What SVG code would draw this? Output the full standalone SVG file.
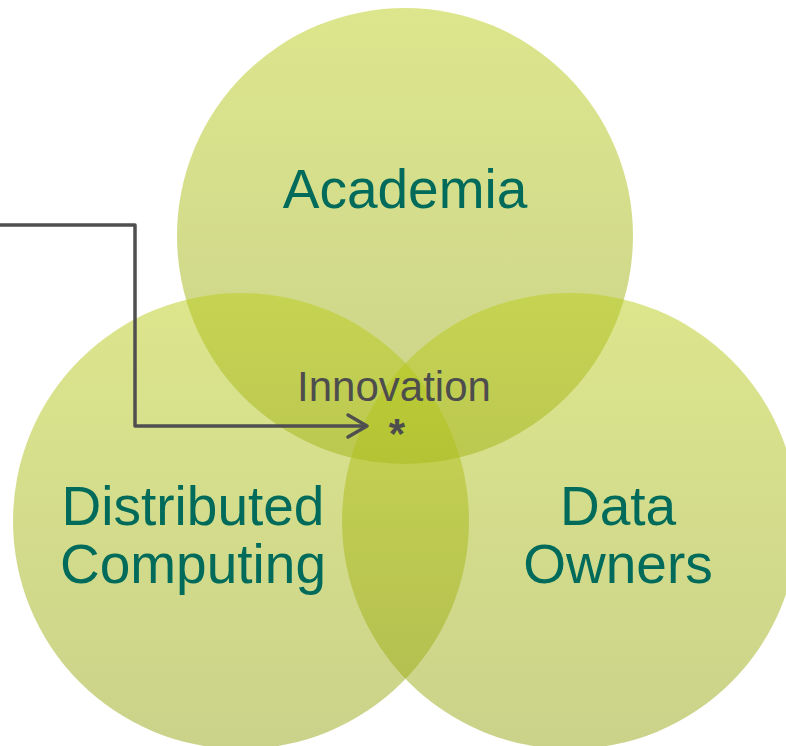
<svg xmlns="http://www.w3.org/2000/svg" width="786" height="746" viewBox="0 0 786 746">
<defs>
<linearGradient id="g" x1="0" y1="0" x2="0" y2="1">
<stop offset="0" stop-color="#BACD1A"/>
<stop offset="1" stop-color="#96A616"/>
</linearGradient>
<style>
.c{fill:url(#g);fill-opacity:0.5}
.t{font-family:"Liberation Sans",Arial,sans-serif;font-size:55px;fill:#006B5A;text-anchor:middle}
.i{font-family:"Liberation Sans",Arial,sans-serif;font-size:42px;fill:#4D4D4D;text-anchor:middle}
.conn{fill:none;stroke:#4F4F4F;stroke-width:3.5;stroke-linejoin:round;stroke-linecap:round}
</style>
</defs>
<rect width="786" height="746" fill="#FFFFFF"/>
<g id="academia"><circle class="c" cx="405" cy="236" r="228"/></g>
<g id="distributed-computing"><circle class="c" cx="241" cy="521" r="228"/></g>
<g id="data-owners"><circle class="c" cx="570" cy="521" r="228"/></g>
<g id="labels">
<text class="t" x="405" y="208">Academia</text>
<text class="t" x="193" y="525">Distributed</text>
<text class="t" x="193" y="583">Computing</text>
<text class="t" x="618" y="525">Data</text>
<text class="t" x="618" y="583">Owners</text>
</g>
<g id="innovation">
<text class="i" x="394" y="401">Innovation</text>
<text class="i" x="397" y="448" font-weight="bold">*</text>
</g>
<g id="connectors">
<path class="conn" d="M0 225 H135 V426 H366"/>
<path class="conn" d="M348 415 L367 426 L348 437"/>
</g>
</svg>
